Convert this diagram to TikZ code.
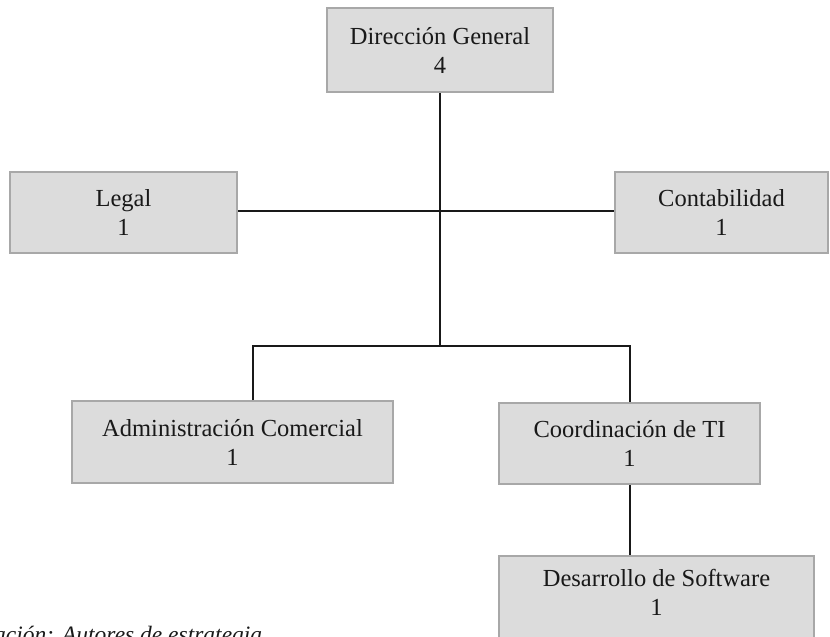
\documentclass[tikz,border=0pt]{standalone}
\usepackage{fontspec}
\setmainfont{Liberation Serif}
\definecolor{boxfill}{RGB}{220,220,220}
\definecolor{boxline}{RGB}{168,168,168}
\definecolor{inkc}{RGB}{25,25,25}
\begin{document}
\begin{tikzpicture}[x=1pt,y=-1pt,
  unit/.style={draw=boxline,line width=2pt,fill=boxfill,align=center,
    inner sep=0pt,text=inkc,font=\fontsize{24.5}{29}\selectfont},
  link/.style={draw=inkc,line width=1.4pt}]
  \useasboundingbox (0,0) rectangle (830,637);
  \clip (0,0) rectangle (830,637);

  % organisation units
  \node[unit,minimum width=226pt,minimum height=84pt] (dg) at (440,50) {Dirección General\\4};
  \node[unit,minimum width=227pt,minimum height=81pt] (legal) at (123.5,212.5) {Legal\\1};
  \node[unit,minimum width=213pt,minimum height=81pt] (conta) at (721.5,212.5) {Contabilidad\\1};
  \node[unit,minimum width=321pt,minimum height=82pt] (admin) at (232.5,442) {Administración Comercial\\1};
  \node[unit,minimum width=261pt,minimum height=81pt] (coord) at (629.5,443.5) {Coordinación de TI\\1};
  % this box runs past the lower edge; an empty third line keeps its text high
  \node[unit,minimum width=315pt,minimum height=110pt] (soft) at (656.5,611) {Desarrollo de Software\\1\\\strut};

  % branching points
  \coordinate (hub) at (440,211);
  \coordinate (split) at (440,346);
  \coordinate (la) at (253,346);
  \coordinate (ra) at (630,346);

  % connectors
  \draw[link] (dg.south) -- (split);
  \draw[link] (legal.east |- hub) -- (conta.west |- hub);
  \draw[link] (la |- admin.north) -- (la) -- (ra) -- (ra |- coord.north);
  \draw[link] (ra |- coord.south) -- (ra |- soft.north);

  % source note
  \node[anchor=base west,inner sep=0pt,text=inkc,font=\fontsize{23.5}{28}\itshape] (src) at (-6,642) {ación: Autores de estrategia};
\end{tikzpicture}
\end{document}
